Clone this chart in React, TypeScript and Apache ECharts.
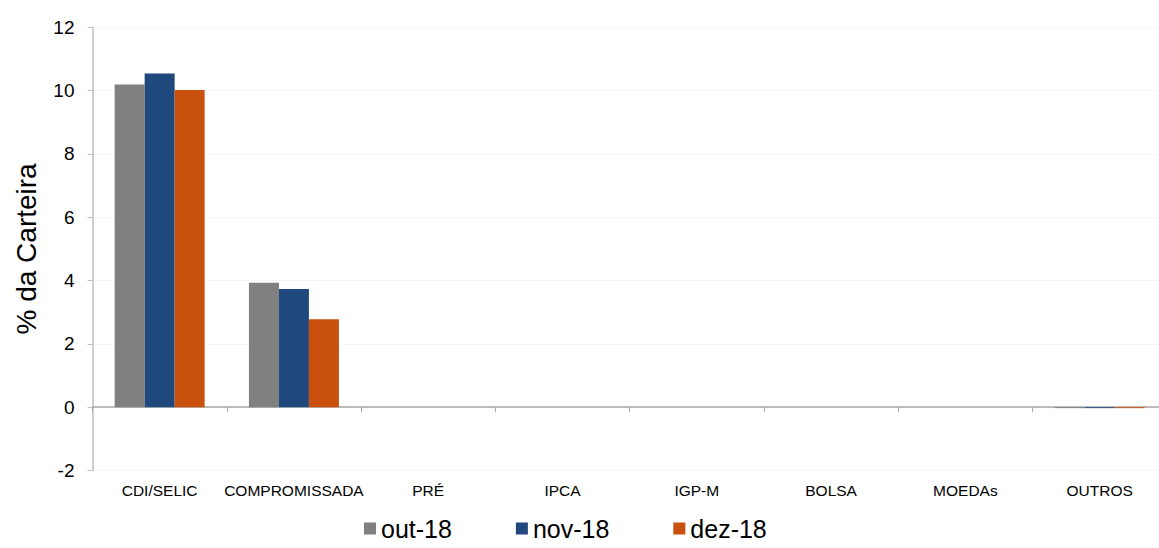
import React, { useEffect, useRef } from "react";
import * as echarts from "echarts";

const categories = ["CDI/SELIC", "COMPROMISSADA", "PRÉ", "IPCA", "IGP-M", "BOLSA", "MOEDAs", "OUTROS"];
const seriesNames = ["out-18", "nov-18", "dez-18"];
const out18 = [10.19, 3.93, 0, 0, 0, 0, 0, -0.03];
const nov18 = [10.54, 3.73, 0, 0, 0, 0, 0, -0.03];
const dez18 = [10.02, 2.78, 0, 0, 0, 0, 0, -0.03];
const colors = ["#808080", "#1F497D", "#C9500D"];

const FONT = "Arial, 'Liberation Sans', sans-serif";

export default function App() {
  const ref = useRef<HTMLDivElement>(null);
  useEffect(() => {
    if (!ref.current) return;
    const chart = echarts.init(ref.current, undefined, { renderer: "svg" });
    const data = [out18, nov18, dez18];
    chart.setOption({
      animation: false,
      backgroundColor: "#ffffff",
      textStyle: { fontFamily: FONT },
      grid: {
        left: 92.5,
        right: -7.8,
        top: 27.3,
        bottom: 77.5,
        containLabel: false,
        outerBoundsMode: "none",
      },
      legend: {
        data: seriesNames,
        bottom: 2,
        left: 359,
        itemWidth: 12,
        itemHeight: 12,
        itemGap: 64,
        icon: "rect",
        textStyle: { fontSize: 25, color: "#000", fontFamily: FONT },
      },
      xAxis: {
        type: "category",
        data: categories,
        axisLine: { onZero: true, lineStyle: { color: "#a6a6a6", width: 1.5 } },
        axisTick: { show: true, length: 5, lineStyle: { color: "#a6a6a6" } },
        axisLabel: { color: "#000", fontSize: 15.5, margin: 12, interval: 0, fontFamily: FONT },
        splitLine: { show: false },
      },
      yAxis: {
        type: "value",
        min: -2,
        max: 12,
        interval: 2,
        name: "% da Carteira",
        nameLocation: "middle",
        nameGap: 52,
        nameTextStyle: { fontSize: 28, color: "#000", fontFamily: FONT },
        axisLine: { show: true, lineStyle: { color: "#bfbfbf", width: 1.5 } },
        axisTick: { show: true, length: 5, lineStyle: { color: "#bfbfbf" } },
        axisLabel: { color: "#000", fontSize: 19, margin: 18, fontFamily: FONT },
        splitLine: { show: true, lineStyle: { color: "#ececec", type: "dotted", width: 1 } },
      },
      series: seriesNames.map((name, i) => ({
        name,
        type: "bar",
        data: data[i],
        barGap: "0%",
        barCategoryGap: "33%",
        itemStyle: { color: colors[i] },
      })),
    });
    return () => chart.dispose();
  }, []);
  return (
    <div
      ref={ref}
      style={{ position: "fixed", left: 0, top: 0, width: 1159, height: 548, background: "#fff" }}
    />
  );
}
